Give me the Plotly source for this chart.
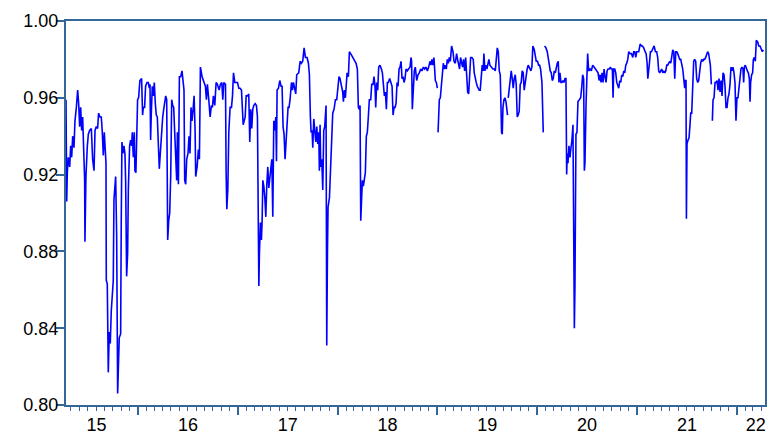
import pandas as pd
import plotly.graph_objects as go

# ---- data: decimal-year time stamps and values ----
seg1_t = [2015.279, 2015.286, 2015.292, 2015.302, 2015.316, 2015.326, 2015.336, 2015.346, 2015.359, 2015.369,
          2015.383, 2015.396, 2015.406, 2015.416, 2015.426, 2015.436, 2015.446, 2015.456, 2015.466, 2015.469,
          2015.479, 2015.493, 2015.503, 2015.516, 2015.533, 2015.546, 2015.560, 2015.570, 2015.583, 2015.596,
          2015.606, 2015.620, 2015.633, 2015.643, 2015.653, 2015.663, 2015.673, 2015.680, 2015.683, 2015.693,
          2015.703, 2015.713, 2015.723, 2015.733, 2015.747, 2015.753, 2015.760, 2015.777, 2015.787, 2015.797,
          2015.803, 2015.813, 2015.827, 2015.833, 2015.840, 2015.850, 2015.860, 2015.870, 2015.877, 2015.887,
          2015.897, 2015.904, 2015.917, 2015.927, 2015.937, 2015.944, 2015.954, 2015.964, 2015.970, 2015.980,
          2015.987, 2015.997, 2016.007, 2016.020, 2016.037, 2016.047, 2016.054, 2016.067, 2016.077, 2016.091,
          2016.104, 2016.114, 2016.121, 2016.127, 2016.134, 2016.144, 2016.154, 2016.164, 2016.174, 2016.184,
          2016.194, 2016.204, 2016.214, 2016.224, 2016.234, 2016.248, 2016.258, 2016.268, 2016.278, 2016.288,
          2016.298, 2016.308, 2016.318, 2016.328, 2016.338, 2016.348, 2016.358, 2016.368, 2016.378, 2016.388,
          2016.395, 2016.405, 2016.415, 2016.428, 2016.441]
seg1_v = [0.959, 0.906, 0.921, 0.929, 0.924, 0.935, 0.929, 0.940, 0.934, 0.948,
          0.955, 0.964, 0.957, 0.945, 0.955, 0.943, 0.950, 0.938, 0.917, 0.885,
          0.919, 0.935, 0.941, 0.943, 0.944, 0.928, 0.922, 0.943, 0.945, 0.944,
          0.952, 0.950, 0.950, 0.942, 0.930, 0.942, 0.931, 0.926, 0.865, 0.863,
          0.817, 0.838, 0.832, 0.849, 0.860, 0.865, 0.907, 0.919, 0.888, 0.806,
          0.817, 0.835, 0.837, 0.896, 0.937, 0.931, 0.935, 0.931, 0.917, 0.867,
          0.879, 0.912, 0.935, 0.938, 0.935, 0.942, 0.929, 0.942, 0.922, 0.921,
          0.933, 0.959, 0.960, 0.969, 0.970, 0.951, 0.955, 0.955, 0.966, 0.968,
          0.968, 0.965, 0.967, 0.938, 0.952, 0.966, 0.961, 0.968, 0.957, 0.951,
          0.950, 0.933, 0.923, 0.931, 0.940, 0.950, 0.954, 0.959, 0.961, 0.959,
          0.886, 0.896, 0.900, 0.919, 0.959, 0.956, 0.955, 0.942, 0.928, 0.917,
          0.942, 0.915, 0.971, 0.971, 0.974]

seg2_t = [2016.461, 2016.468, 2016.478, 2016.488, 2016.501, 2016.511, 2016.521, 2016.531, 2016.541, 2016.552,
          2016.562, 2016.572, 2016.578, 2016.592, 2016.605, 2016.615, 2016.625, 2016.642, 2016.662, 2016.675,
          2016.685, 2016.695, 2016.709, 2016.722, 2016.735, 2016.745, 2016.755, 2016.769, 2016.782, 2016.795,
          2016.812, 2016.825, 2016.839, 2016.849, 2016.859, 2016.876, 2016.882, 2016.889, 2016.899, 2016.909,
          2016.922, 2016.936, 2016.946, 2016.956, 2016.969, 2016.983, 2016.996, 2017.009, 2017.022, 2017.036,
          2017.043, 2017.053, 2017.063, 2017.073, 2017.083, 2017.096, 2017.109, 2017.119, 2017.129, 2017.139,
          2017.149, 2017.159, 2017.173, 2017.186, 2017.196, 2017.203, 2017.210, 2017.216, 2017.226, 2017.236,
          2017.243, 2017.250, 2017.260, 2017.270, 2017.280, 2017.290, 2017.300, 2017.310, 2017.320, 2017.330,
          2017.340, 2017.350, 2017.360, 2017.370, 2017.380, 2017.387, 2017.393, 2017.407, 2017.420, 2017.433,
          2017.443, 2017.453, 2017.463, 2017.473, 2017.483, 2017.493, 2017.503, 2017.513, 2017.523, 2017.537,
          2017.547, 2017.557, 2017.570, 2017.580, 2017.590]
seg2_v = [0.964, 0.917, 0.915, 0.928, 0.931, 0.940, 0.931, 0.955, 0.948, 0.954,
          0.961, 0.943, 0.919, 0.924, 0.933, 0.928, 0.976, 0.971, 0.968, 0.966,
          0.959, 0.967, 0.959, 0.950, 0.956, 0.955, 0.961, 0.956, 0.968, 0.967,
          0.964, 0.967, 0.968, 0.959, 0.968, 0.967, 0.922, 0.902, 0.912, 0.942,
          0.955, 0.955, 0.961, 0.973, 0.968, 0.968, 0.968, 0.965, 0.965, 0.964,
          0.957, 0.946, 0.948, 0.950, 0.961, 0.961, 0.962, 0.937, 0.954, 0.944,
          0.954, 0.956, 0.957, 0.956, 0.950, 0.917, 0.862, 0.879, 0.895, 0.886,
          0.896, 0.917, 0.914, 0.908, 0.898, 0.915, 0.924, 0.913, 0.919, 0.924,
          0.928, 0.898, 0.948, 0.943, 0.950, 0.927, 0.964, 0.965, 0.969, 0.966,
          0.966, 0.945, 0.941, 0.928, 0.936, 0.943, 0.955, 0.955, 0.959, 0.968,
          0.964, 0.968, 0.963, 0.962, 0.972]

seg3_t = [2017.610, 2017.624, 2017.637, 2017.650, 2017.664, 2017.677, 2017.694, 2017.707, 2017.717, 2017.727,
          2017.734, 2017.744, 2017.751, 2017.761, 2017.771, 2017.781, 2017.791, 2017.801, 2017.811, 2017.817,
          2017.824, 2017.831, 2017.841, 2017.851, 2017.861, 2017.871, 2017.884, 2017.891, 2017.898, 2017.904,
          2017.918, 2017.928, 2017.938, 2017.951, 2017.964, 2017.978, 2017.991, 2018.004, 2018.014, 2018.024,
          2018.038, 2018.051, 2018.058, 2018.068, 2018.078, 2018.085, 2018.095, 2018.108, 2018.118, 2018.131,
          2018.151, 2018.168, 2018.185, 2018.198, 2018.208, 2018.218, 2018.225, 2018.232, 2018.238, 2018.248,
          2018.258, 2018.268, 2018.278, 2018.288, 2018.298, 2018.308, 2018.318, 2018.332, 2018.342, 2018.355,
          2018.365, 2018.375, 2018.382, 2018.392, 2018.402, 2018.412, 2018.425, 2018.439, 2018.449, 2018.459,
          2018.469, 2018.479, 2018.489, 2018.499, 2018.509, 2018.522, 2018.535, 2018.546, 2018.556, 2018.566,
          2018.576, 2018.586, 2018.596, 2018.606, 2018.616, 2018.626, 2018.636, 2018.646, 2018.656, 2018.666,
          2018.676, 2018.686, 2018.699, 2018.712, 2018.726, 2018.736, 2018.742, 2018.749, 2018.759, 2018.769,
          2018.779]
seg3_v = [0.973, 0.979, 0.978, 0.979, 0.986, 0.981, 0.981, 0.978, 0.972, 0.950,
          0.942, 0.943, 0.934, 0.949, 0.943, 0.937, 0.945, 0.936, 0.942, 0.922,
          0.946, 0.924, 0.928, 0.912, 0.943, 0.945, 0.956, 0.831, 0.879, 0.903,
          0.908, 0.921, 0.938, 0.952, 0.954, 0.959, 0.959, 0.966, 0.971, 0.970,
          0.966, 0.963, 0.958, 0.964, 0.960, 0.967, 0.973, 0.971, 0.984, 0.983,
          0.981, 0.980, 0.978, 0.975, 0.955, 0.954, 0.956, 0.896, 0.906, 0.917,
          0.914, 0.919, 0.921, 0.940, 0.942, 0.950, 0.959, 0.959, 0.967, 0.967,
          0.971, 0.966, 0.955, 0.968, 0.964, 0.976, 0.977, 0.975, 0.973, 0.967,
          0.961, 0.963, 0.954, 0.968, 0.968, 0.970, 0.968, 0.966, 0.951, 0.955,
          0.955, 0.957, 0.968, 0.966, 0.975, 0.976, 0.979, 0.970, 0.971, 0.968,
          0.970, 0.975, 0.974, 0.975, 0.976, 0.981, 0.979, 0.954, 0.968, 0.974,
          0.976]

seg4_t = [2018.793, 2018.806, 2018.819, 2018.833, 2018.846, 2018.860, 2018.873, 2018.886, 2018.900, 2018.913,
          2018.926, 2018.936, 2018.946, 2018.956, 2018.966, 2018.980, 2018.990, 2019.000, 2019.004, 2019.007,
          2019.020, 2019.030, 2019.040, 2019.050, 2019.060, 2019.070, 2019.080, 2019.090, 2019.100, 2019.110,
          2019.120, 2019.130, 2019.143, 2019.157, 2019.167, 2019.180, 2019.193, 2019.203, 2019.213, 2019.223,
          2019.233, 2019.243, 2019.253, 2019.263, 2019.274, 2019.284, 2019.294, 2019.304, 2019.314, 2019.324,
          2019.334, 2019.347, 2019.360, 2019.370, 2019.380, 2019.390, 2019.400, 2019.410, 2019.420, 2019.430,
          2019.440, 2019.450, 2019.460, 2019.467, 2019.477, 2019.487, 2019.497, 2019.507, 2019.517, 2019.527,
          2019.541, 2019.558, 2019.571, 2019.581, 2019.591, 2019.601, 2019.611, 2019.621, 2019.631, 2019.638,
          2019.644, 2019.651, 2019.658, 2019.668, 2019.678, 2019.688, 2019.698, 2019.704, 2019.708, 2019.711,
          2019.721, 2019.731, 2019.741, 2019.751, 2019.761, 2019.771, 2019.781, 2019.791, 2019.801, 2019.811,
          2019.821, 2019.831, 2019.841, 2019.851, 2019.861, 2019.871, 2019.881, 2019.891, 2019.901, 2019.911,
          2019.921, 2019.931]
seg4_v = [0.969, 0.972, 0.973, 0.975, 0.974, 0.976, 0.975, 0.976, 0.974, 0.976,
          0.979, 0.977, 0.980, 0.977, 0.981, 0.969, 0.968, 0.965, None, 0.942,
          0.959, 0.960, 0.966, 0.971, 0.978, 0.975, 0.977, 0.975, 0.980, 0.978,
          0.981, 0.979, 0.987, 0.984, 0.979, 0.978, 0.983, 0.980, 0.978, 0.975,
          0.981, 0.979, 0.976, 0.980, 0.974, 0.981, 0.969, 0.963, 0.962, 0.969,
          0.981, 0.981, 0.980, 0.973, 0.969, 0.968, 0.966, 0.965, 0.964, 0.964,
          0.974, 0.977, 0.974, 0.983, 0.974, 0.977, 0.975, 0.977, 0.980, 0.977,
          0.976, 0.975, 0.975, 0.974, 0.980, 0.986, 0.984, 0.974, 0.972, 0.948,
          0.942, 0.941, 0.955, 0.959, 0.960, 0.958, 0.952, 0.951, None, 0.960,
          0.966, 0.970, 0.974, 0.970, 0.965, 0.970, 0.972, 0.967, 0.950, 0.951,
          0.953, 0.967, 0.968, 0.974, 0.973, 0.964, 0.968, 0.973, 0.975, 0.977,
          0.976, 0.975]

seg5_t = [2019.938, 2019.948, 2019.958, 2019.972, 2019.982, 2019.992, 2020.005, 2020.015, 2020.025, 2020.035,
          2020.049, 2020.055, 2020.062, 2020.068, 2020.075, 2020.089, 2020.102, 2020.112, 2020.122, 2020.132,
          2020.142, 2020.152, 2020.162, 2020.172, 2020.182, 2020.192, 2020.202, 2020.212, 2020.219, 2020.229,
          2020.239, 2020.249, 2020.259, 2020.269, 2020.279, 2020.289, 2020.296, 2020.302, 2020.309, 2020.319,
          2020.329, 2020.339, 2020.349, 2020.359, 2020.366, 2020.373, 2020.379, 2020.389, 2020.399, 2020.409,
          2020.423, 2020.436, 2020.446, 2020.456, 2020.466, 2020.473, 2020.479, 2020.490, 2020.500, 2020.506,
          2020.516, 2020.530, 2020.543, 2020.556, 2020.570, 2020.583, 2020.596, 2020.610, 2020.620, 2020.630,
          2020.640, 2020.650, 2020.660, 2020.670, 2020.680, 2020.690, 2020.700, 2020.710, 2020.723, 2020.733,
          2020.743, 2020.753, 2020.760, 2020.767, 2020.777, 2020.787, 2020.797, 2020.807, 2020.817, 2020.827,
          2020.837, 2020.847, 2020.857, 2020.867, 2020.877, 2020.887, 2020.897, 2020.907, 2020.917, 2020.930,
          2020.944, 2020.957, 2020.967, 2020.977, 2020.987, 2020.997, 2021.007, 2021.017, 2021.031, 2021.044,
          2021.054, 2021.067, 2021.081, 2021.091, 2021.101, 2021.108]
seg5_v = [0.974, 0.976, 0.987, 0.985, 0.981, 0.979, 0.979, 0.977, 0.977, 0.975,
          0.968, 0.960, 0.942, None, 0.987, 0.986, 0.984, 0.981, 0.976, 0.974,
          0.973, 0.969, 0.970, 0.974, 0.973, 0.976, 0.978, 0.979, 0.968, 0.973,
          0.968, 0.968, 0.969, 0.968, 0.970, 0.970, 0.920, 0.931, 0.926, 0.935,
          0.929, 0.934, 0.938, 0.946, 0.893, 0.840, 0.862, 0.941, 0.942, 0.958,
          0.959, 0.960, 0.965, 0.972, 0.970, 0.922, 0.926, 0.957, 0.973, 0.983,
          0.974, 0.975, 0.974, 0.977, 0.976, 0.975, 0.974, 0.973, 0.969, 0.972,
          0.968, 0.973, 0.968, 0.975, 0.971, 0.968, 0.974, 0.975, 0.975, 0.976,
          0.975, 0.975, 0.960, 0.975, 0.975, 0.973, 0.968, 0.966, 0.965, 0.969,
          0.968, 0.972, 0.971, 0.974, 0.973, 0.977, 0.978, 0.980, 0.984, 0.983,
          0.983, 0.981, 0.984, 0.984, 0.981, 0.984, 0.984, 0.984, 0.988, 0.987,
          0.987, 0.986, 0.984, 0.983, 0.978, 0.970]

seg6_t = [2021.124, 2021.134, 2021.144, 2021.157, 2021.171, 2021.184, 2021.197, 2021.207, 2021.217, 2021.227,
          2021.237, 2021.247, 2021.258, 2021.268, 2021.278, 2021.288, 2021.298, 2021.308, 2021.318, 2021.328,
          2021.338, 2021.348, 2021.358, 2021.368, 2021.378, 2021.388, 2021.398, 2021.408, 2021.418, 2021.428,
          2021.438, 2021.448, 2021.458, 2021.468, 2021.478, 2021.485, 2021.491, 2021.495, 2021.501, 2021.511,
          2021.521, 2021.531, 2021.538, 2021.548, 2021.558, 2021.568, 2021.578, 2021.588, 2021.598, 2021.608,
          2021.618, 2021.628, 2021.638, 2021.648, 2021.658, 2021.668, 2021.678, 2021.688, 2021.698, 2021.708,
          2021.718, 2021.725, 2021.735, 2021.745, 2021.750, 2021.755, 2021.762, 2021.772, 2021.782, 2021.792,
          2021.802, 2021.812, 2021.822, 2021.832, 2021.842, 2021.852, 2021.862, 2021.872, 2021.882, 2021.892,
          2021.902, 2021.912, 2021.922, 2021.932, 2021.942, 2021.952, 2021.962, 2021.972, 2021.982, 2021.992,
          2022.002, 2022.012, 2022.022, 2022.032, 2022.042, 2022.052, 2022.062, 2022.069, 2022.076, 2022.086,
          2022.096, 2022.106, 2022.116, 2022.126, 2022.133, 2022.139, 2022.149, 2022.159, 2022.166, 2022.176,
          2022.186, 2022.196, 2022.210, 2022.220, 2022.233, 2022.246, 2022.256, 2022.266]
seg6_v = [0.978, 0.984, 0.984, 0.986, 0.987, 0.984, 0.984, 0.981, 0.974, 0.973,
          0.974, 0.975, 0.973, 0.974, 0.973, 0.974, 0.977, 0.977, 0.978, 0.979,
          0.978, 0.981, 0.985, 0.984, 0.970, 0.984, 0.984, 0.983, 0.981, 0.980,
          0.980, 0.978, 0.975, 0.970, 0.965, 0.969, 0.969, 0.897, 0.936, 0.938,
          0.939, 0.946, 0.952, 0.952, 0.969, 0.979, 0.980, 0.979, 0.970, 0.968,
          0.969, 0.976, 0.978, 0.980, 0.979, 0.980, 0.980, 0.981, 0.983, 0.984,
          0.983, 0.980, 0.977, 0.967, None, 0.948, 0.959, 0.960, 0.968, 0.968,
          0.969, 0.964, 0.970, 0.963, 0.969, 0.961, 0.973, 0.972, 0.966, 0.955,
          0.955, 0.960, 0.962, 0.967, 0.976, 0.974, 0.976, 0.973, 0.968, 0.948,
          0.960, 0.960, 0.966, 0.968, 0.975, 0.976, 0.975, 0.968, 0.976, 0.977,
          0.975, 0.974, 0.973, 0.970, 0.958, 0.968, 0.972, 0.973, 0.980, 0.981,
          0.979, 0.990, 0.989, 0.987, 0.987, 0.985, 0.984, 0.985]

x_range_years = [2015.279, 2022.283]
year_ticks = [2016, 2017, 2018, 2019, 2020, 2021, 2022]
label_pos_years = [2015.585, 2016.5, 2017.5, 2018.5, 2019.5, 2020.5, 2021.5, 2022.19]
label_text = ["15", "16", "17", "18", "19", "20", "21", "22"]
y_ticks = [0.80, 0.84, 0.88, 0.92, 0.96, 1.00]


def to_date(y):
    yr = int(y)
    start = pd.Timestamp(year=yr, month=1, day=1)
    span = (pd.Timestamp(year=yr + 1, month=1, day=1) - start).days
    return start + pd.Timedelta(days=(y - yr) * span)


t_all = seg1_t + seg2_t + seg3_t + seg4_t + seg5_t + seg6_t
v_all = seg1_v + seg2_v + seg3_v + seg4_v + seg5_v + seg6_v
dates = [to_date(t) for t in t_all]

AX = "#336699"
LINE = "#0000ff"

fig = go.Figure()
fig.add_trace(go.Scatter(x=dates, y=v_all, mode="lines",
                         line=dict(color=LINE, width=1.6),
                         connectgaps=False, showlegend=False, hoverinfo="x+y"))
# helper trace so the label axis is drawn
fig.add_trace(go.Scatter(x=[to_date(x_range_years[0]), to_date(x_range_years[1])], y=[None, None],
                         xaxis="x2", mode="lines", showlegend=False, hoverinfo="skip"))

xr = [to_date(x_range_years[0]), to_date(x_range_years[1])]

fig.update_layout(
    width=767, height=434,
    margin=dict(l=66, r=2, t=21, b=29, autoexpand=False),
    paper_bgcolor="white", plot_bgcolor="white",
    font=dict(family="Liberation Sans, Arial, sans-serif", size=18, color="black"),
    showlegend=False,
    xaxis=dict(
        type="date", range=xr,
        tickmode="array", tickvals=[to_date(y) for y in year_ticks],
        showticklabels=False,
        ticks="outside", ticklen=8, tickwidth=1.5, tickcolor=AX,
        showline=True, linecolor=AX, linewidth=2, mirror=True,
        showgrid=False, zeroline=False,
        minor=dict(ticks="outside", ticklen=4, tickwidth=1.2, tickcolor=AX,
                   dtick="M1", tick0="2016-01-01", showgrid=False),
    ),
    xaxis2=dict(
        type="date", range=xr, overlaying="x", anchor="y", side="bottom",
        tickmode="array", tickvals=[to_date(y) for y in label_pos_years], ticktext=label_text,
        ticks="", showline=False, showgrid=False, zeroline=False,
        ticklabelstandoff=7,
    ),
    yaxis=dict(
        range=[0.80, 1.00], tickmode="array", tickvals=y_ticks,
        tickformat=".2f",
        ticks="outside", ticklen=8, tickwidth=1.5, tickcolor=AX,
        showline=True, linecolor=AX, linewidth=2, mirror=True,
        showgrid=False, zeroline=False,
        ticklabelstandoff=-6,
    ),
)

# remove the page's default body margin so the 767x434 figure fills the window exactly
fig.write_html("out.html",
               config={"displayModeBar": False},
               post_script="document.body.style.margin='0';document.body.style.overflow='hidden';")
